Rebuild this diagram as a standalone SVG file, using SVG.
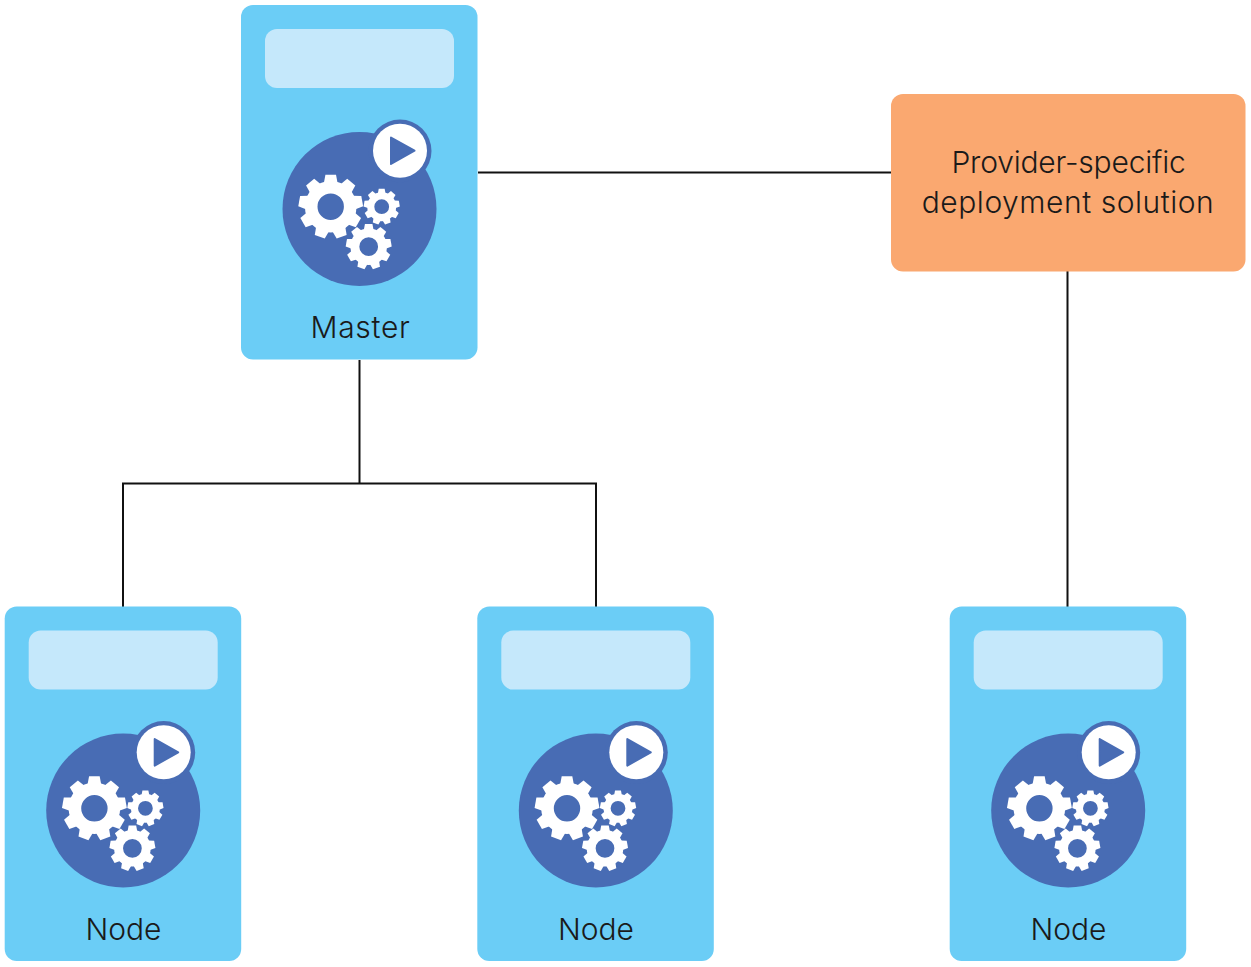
<svg xmlns="http://www.w3.org/2000/svg" xmlns:xlink="http://www.w3.org/1999/xlink" width="1251" height="967" viewBox="0 0 1251 967">
<style>
.card{fill:#6bcdf6}
.slot{fill:#c5e8fb}
.disc{fill:#486cb4}
.wht{fill:#fff}
.tri{fill:#486cb4;stroke:#486cb4;stroke-width:2;stroke-linejoin:round}
.ring{fill:none;stroke:#fff;stroke-width:12.6}
.tooth{fill:#fff}
.lbl{font-family:"Inter","Liberation Sans",sans-serif;font-size:30px;font-weight:300;fill:#1a1a1a;text-anchor:middle}
.wire{fill:none;stroke:#111;stroke-width:2}
</style>
<defs>
<path id="tooth" class="tooth" d="M-6.800 -24L-5.300 -32H5.300L6.800 -24Z"/>
<g id="gear">
<circle class="ring" r="19.500"/>
<use xlink:href="#tooth"/>
<use xlink:href="#tooth" transform="rotate(40)"/>
<use xlink:href="#tooth" transform="rotate(80)"/>
<use xlink:href="#tooth" transform="rotate(120)"/>
<use xlink:href="#tooth" transform="rotate(160)"/>
<use xlink:href="#tooth" transform="rotate(200)"/>
<use xlink:href="#tooth" transform="rotate(240)"/>
<use xlink:href="#tooth" transform="rotate(280)"/>
<use xlink:href="#tooth" transform="rotate(320)"/>
</g>
<g id="server">
<rect class="card" x="0" y="0" width="236.500" height="354.500" rx="12"/>
<rect class="slot" x="24" y="24" width="189" height="59" rx="12"/>
<circle class="disc" cx="118.500" cy="204" r="77"/>
<circle class="disc" cx="159" cy="146" r="31.500"/>
<circle class="wht" cx="159" cy="145.700" r="27"/>
<path class="tri" d="M150 132.500L173.500 145.700L150 159Z"/>
<use xlink:href="#gear" transform="translate(89.700 201.700)"/>
<use xlink:href="#gear" transform="translate(140.700 201.700) scale(.56)"/>
<use xlink:href="#gear" transform="translate(127.700 241.700) scale(.71)"/>
</g>
</defs>
<g id="connectors">
<path class="wire" d="M478 172.500H891"/>
<path class="wire" d="M359.500 360V483.500"/>
<path class="wire" d="M123 607V483.500H596V607"/>
<path class="wire" d="M1067.500 271V607"/>
</g>
<g id="master">
<use xlink:href="#server" x="241" y="5"/>
<text class="lbl" x="360.500" y="337.500" letter-spacing="0.700">Master</text>
</g>
<g id="node-1">
<use xlink:href="#server" x="4.700" y="606.600"/>
<text class="lbl" x="123.500" y="939.500">Node</text>
</g>
<g id="node-2">
<use xlink:href="#server" x="477.300" y="606.600"/>
<text class="lbl" x="596" y="939.500">Node</text>
</g>
<g id="node-3">
<use xlink:href="#server" x="949.700" y="606.600"/>
<text class="lbl" x="1068.500" y="939.500">Node</text>
</g>
<g id="provider">
<rect x="891" y="94" width="354.500" height="177.500" rx="12" fill="#faa870"/>
<text class="lbl" x="1068.500" y="172.500" letter-spacing="-0.200">Provider-specific</text>
<text class="lbl" x="1068" y="212.500" letter-spacing="0.540">deployment solution</text>
</g>
</svg>
